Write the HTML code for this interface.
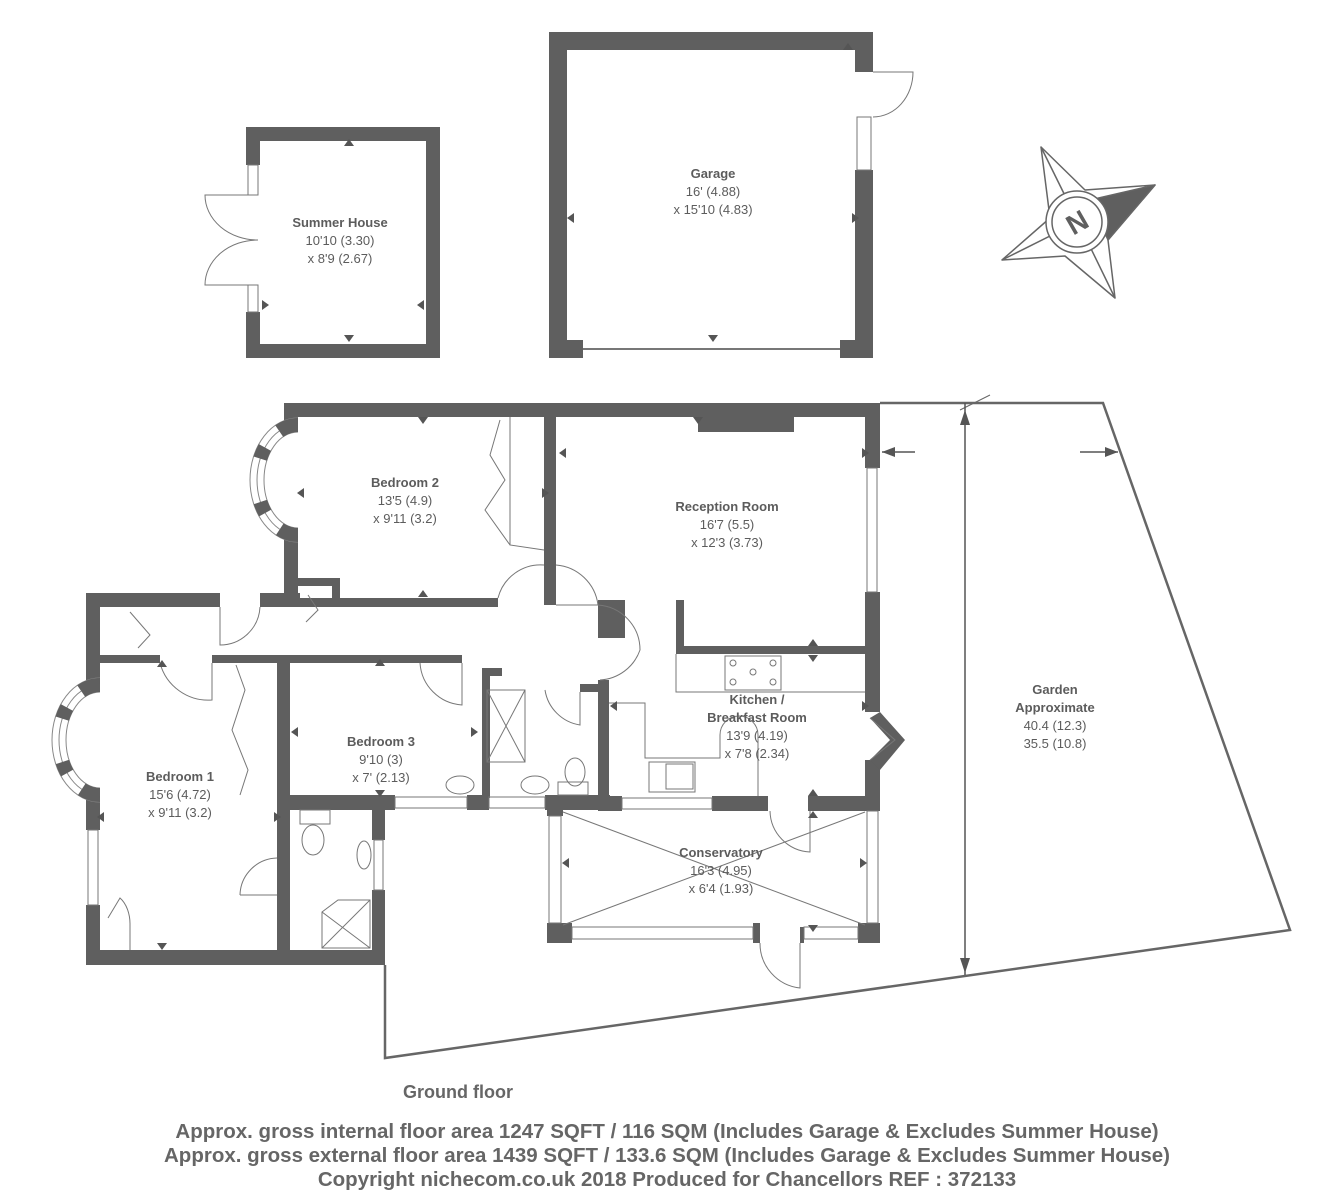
<!DOCTYPE html>
<html><head><meta charset="utf-8"><style>
html,body{margin:0;padding:0;background:#fff}
svg{display:block}
text{font-family:"Liberation Sans",sans-serif;fill:#5c5c5c}
.t{font-weight:bold;font-size:13px}
.d{font-size:13px}
.f{font-weight:bold;font-size:20.5px;fill:#666}
</style></head><body>
<svg width="1342" height="1200" viewBox="0 0 1342 1200" xmlns="http://www.w3.org/2000/svg">
<defs>
<g id="bay">
<path d="M0 -62 A48 62 0 0 0 0 62" fill="none" stroke="#888" stroke-width="1"/>
<path d="M0 -48 A34 48 0 0 0 0 48" fill="none" stroke="#888" stroke-width="1"/>
<path d="M0 -55 A41 55 0 0 0 0 55" fill="none" stroke="#888" stroke-width="1"/>
<path d="M0 -55 A41 55 0 0 0 0 55" fill="none" stroke="#5f5f5f" stroke-width="14" stroke-dasharray="20 22 12 44 12 22 20"/>
</g>
</defs>
<g fill="#5f5f5f">
<!-- Summer house -->
<rect x="246" y="127" width="194" height="14"/>
<rect x="426" y="127" width="14" height="231"/>
<rect x="246" y="344" width="194" height="14"/>
<rect x="246" y="127" width="14" height="38"/>
<rect x="246" y="312" width="14" height="46"/>
<!-- Garage -->
<rect x="549" y="32" width="324" height="18"/>
<rect x="549" y="32" width="18" height="326"/>
<rect x="855" y="32" width="18" height="40"/>
<rect x="855" y="170" width="18" height="188"/>
<rect x="549" y="340" width="34" height="18"/>
<rect x="840" y="340" width="33" height="18"/>
<!-- Main house -->
<rect x="284" y="403" width="596" height="14"/>
<rect x="284" y="403" width="14" height="22"/>
<rect x="284" y="535" width="14" height="58"/>
<rect x="298" y="598" width="200" height="9"/>
<rect x="298" y="578" width="42" height="8"/>
<rect x="332" y="578" width="8" height="28"/>
<rect x="544" y="417" width="12" height="188"/>
<rect x="598" y="600" width="27" height="38"/>
<rect x="676" y="600" width="8" height="54"/>
<rect x="676" y="646" width="189" height="8"/>
<rect x="865" y="403" width="15" height="65"/>
<rect x="865" y="592" width="15" height="120"/>
<rect x="865" y="760" width="15" height="51"/>
<rect x="598" y="680" width="11" height="131"/>
<rect x="608" y="796" width="14" height="15"/>
<rect x="712" y="796" width="56" height="15"/>
<rect x="808" y="796" width="72" height="15"/>
<rect x="698" y="416" width="96" height="16"/>
<rect x="86" y="593" width="134" height="14"/>
<rect x="260" y="593" width="40" height="14"/>
<rect x="86" y="593" width="14" height="92"/>
<rect x="86" y="795" width="14" height="35"/>
<rect x="86" y="905" width="14" height="60"/>
<rect x="100" y="655" width="60" height="8"/>
<rect x="212" y="655" width="250" height="8"/>
<rect x="277" y="655" width="13" height="300"/>
<rect x="482" y="668" width="20" height="8"/>
<rect x="482" y="668" width="8" height="130"/>
<rect x="580" y="684" width="22" height="8"/>
<rect x="290" y="795" width="105" height="15"/>
<rect x="467" y="795" width="22" height="15"/>
<rect x="545" y="795" width="65" height="15"/>
<rect x="372" y="810" width="13" height="30"/>
<rect x="372" y="890" width="13" height="75"/>
<rect x="86" y="950" width="299" height="15"/>
<rect x="547" y="810" width="16" height="6"/>
<rect x="547" y="923" width="25" height="20"/>
<rect x="753" y="923" width="7" height="20"/>
<rect x="800" y="927" width="4" height="16"/>
<rect x="858" y="923" width="22" height="20"/>
<polygon points="880,712 905,740 880,770 870,760 890,740 870,718"/>
</g>
<use href="#bay" x="298" y="480"/>
<use href="#bay" x="100" y="740"/>
<g fill="none" stroke="#777" stroke-width="1">
<rect x="248" y="165" width="10" height="30"/>
<rect x="248" y="285" width="10" height="27"/>
<path d="M258 195 L205 195 A53 45 0 0 0 258 240"/>
<path d="M258 285 L205 285 A53 45 0 0 1 258 240"/>
<rect x="857" y="117" width="14" height="53"/>
<path d="M873 72 L913 72 A40 45 0 0 1 873 117"/>
<line x1="583" y1="349" x2="840" y2="349" stroke-width="2"/>
<rect x="88" y="830" width="10" height="75"/>
<rect x="867" y="468" width="10" height="124"/>
<path d="M220 607 L220 645 A40 40 0 0 0 260 607"/>
<path d="M498 598 A44 44 0 0 1 544 565"/>
<path d="M556 565 A46 46 0 0 1 598 605 L556 605"/>
<path d="M598 605 A45 45 0 0 1 640 650 A45 45 0 0 1 600 680"/>
<path d="M160 663 A50 50 0 0 0 212 700 L212 663"/>
<path d="M420 663 A45 45 0 0 0 462 705 L462 663"/>
<path d="M545 690 A42 42 0 0 0 580 725 L580 692"/>
<path d="M240 895 A38 38 0 0 1 277 858"/>
<line x1="240" y1="895" x2="277" y2="895"/>
<path d="M770 811 A42 42 0 0 0 810 852 L810 811"/>
<path d="M760 943 A45 45 0 0 0 800 988 L800 943"/>
<path d="M108 918 L120 898 A20 30 0 0 1 130 925 L130 950"/>
<path d="M130 612 L150 635 L138 648"/>
<path d="M308 595 L318 610 L306 622"/>
<path d="M510 417 L510 545 L544 550"/>
<path d="M500 420 L490 455 L505 480 L485 510 L510 545"/>
<path d="M236 665 L245 690 L232 730 L248 770 L240 795"/>
<rect x="395" y="797" width="72" height="11"/>
<rect x="489" y="797" width="56" height="11"/>
<rect x="622" y="798" width="90" height="11"/>
<rect x="374" y="840" width="9" height="50"/>
<rect x="549" y="816" width="12" height="107"/>
<rect x="867" y="811" width="11" height="112"/>
<rect x="572" y="927" width="181" height="12"/>
<rect x="804" y="927" width="54" height="12"/>
<path d="M870 718 L895 740 L870 760"/>
<line x1="563" y1="812" x2="865" y2="925"/>
<line x1="563" y1="925" x2="865" y2="812"/>
<path d="M676 654 L676 692 L865 692"/>
<rect x="725" y="656" width="56" height="34"/>
<circle cx="733" cy="663" r="3"/><circle cx="773" cy="663" r="3"/><circle cx="753" cy="672" r="3"/><circle cx="733" cy="682" r="3"/><circle cx="773" cy="682" r="3"/>
<path d="M609 703 L645 703 L645 758 L720 758 L720 735 A18 18 0 0 1 758 735 L758 796"/>
<rect x="649" y="762" width="46" height="30"/>
<rect x="666" y="764" width="27" height="25"/>
<rect x="487" y="690" width="38" height="72"/>
<line x1="487" y1="690" x2="525" y2="762"/><line x1="525" y1="690" x2="487" y2="762"/>
<ellipse cx="575" cy="772" rx="10" ry="14"/>
<rect x="558" y="782" width="30" height="13"/>
<ellipse cx="460" cy="785" rx="14" ry="9"/>
<ellipse cx="535" cy="785" rx="14" ry="9"/>
<ellipse cx="313" cy="840" rx="11" ry="15"/>
<rect x="300" y="810" width="30" height="14"/>
<ellipse cx="364" cy="855" rx="7" ry="14"/>
<path d="M322 948 L322 912 L338 900 L370 900 L370 948 Z"/>
<line x1="322" y1="912" x2="370" y2="948"/><line x1="370" y1="900" x2="322" y2="948"/>
<path d="M880 403 L1103 403 L1290 930 L385 1058 L385 965" stroke="#666" stroke-width="2.5"/>
<line x1="960" y1="410" x2="990" y2="395" stroke="#666"/>
<line x1="965" y1="403" x2="965" y2="975" stroke="#555" stroke-width="1.5"/>
<line x1="882" y1="452" x2="915" y2="452" stroke="#555" stroke-width="1.5"/>
<line x1="1080" y1="452" x2="1118" y2="452" stroke="#555" stroke-width="1.5"/>
</g>
<g fill="#555">
<polygon points="344,146 354,146 349,139"/><polygon points="344,335 354,335 349,342"/>
<polygon points="262,300 262,310 269,305"/><polygon points="424,300 424,310 417,305"/>
<polygon points="843,50 853,50 848,43"/><polygon points="708,335 718,335 713,342"/>
<polygon points="574,213 574,223 567,218"/><polygon points="852,213 852,223 859,218"/>
<polygon points="418,417 428,417 423,424"/><polygon points="418,597 428,597 423,590"/>
<polygon points="304,488 304,498 297,493"/><polygon points="542,488 542,498 549,493"/>
<polygon points="693,417 703,417 698,424"/><polygon points="808,646 818,646 813,639"/>
<polygon points="566,448 566,458 559,453"/><polygon points="862,448 862,458 869,453"/>
<polygon points="808,655 818,655 813,662"/>
<polygon points="617,701 617,711 610,706"/><polygon points="862,701 862,711 869,706"/>
<polygon points="808,796 818,796 813,789"/><polygon points="808,818 818,818 813,811"/>
<polygon points="569,858 569,868 562,863"/><polygon points="860,858 860,868 867,863"/>
<polygon points="808,925 818,925 813,932"/>
<polygon points="375,666 385,666 380,659"/><polygon points="375,790 385,790 380,797"/>
<polygon points="298,727 298,737 291,732"/><polygon points="471,727 471,737 478,732"/>
<polygon points="157,667 167,667 162,660"/><polygon points="157,943 167,943 162,950"/>
<polygon points="104,812 104,822 97,817"/><polygon points="274,812 274,822 281,817"/>
<polygon points="960,425 970,425 965,410"/><polygon points="960,958 970,958 965,973"/>
<polygon points="895,447 895,457 882,452"/><polygon points="1105,447 1105,457 1118,452"/>
</g>
<!-- compass -->
<g stroke="#666" stroke-width="1.5" fill="#fff" stroke-linejoin="round">
<polygon points="1041,147 1085,190 1155,185 1108,240 1115,298 1065,256 1002,260 1050,218"/>
<polygon points="1155,185 1090,200 1108,240" fill="#5f5f5f"/>
<line x1="1041" y1="147" x2="1078" y2="222"/>
<line x1="1002" y1="260" x2="1078" y2="222"/>
<line x1="1115" y1="298" x2="1078" y2="222"/>
<circle cx="1077" cy="222" r="31" fill="#fff"/>
<circle cx="1077" cy="222" r="25" fill="#fff"/>
</g>
<text x="1077" y="232" text-anchor="middle" style="fill:#5f5f5f;font-weight:bold;font-size:28px" transform="rotate(-30 1077 222)">N</text>
<text class="t" x="340" y="227" text-anchor="middle">Summer House</text>
<text class="d" x="340" y="245" text-anchor="middle">10'10 (3.30)</text>
<text class="d" x="340" y="263" text-anchor="middle">x 8'9 (2.67)</text>
<text class="t" x="713" y="178" text-anchor="middle">Garage</text>
<text class="d" x="713" y="196" text-anchor="middle">16' (4.88)</text>
<text class="d" x="713" y="214" text-anchor="middle">x 15'10 (4.83)</text>
<text class="t" x="405" y="487" text-anchor="middle">Bedroom 2</text>
<text class="d" x="405" y="505" text-anchor="middle">13'5 (4.9)</text>
<text class="d" x="405" y="523" text-anchor="middle">x 9'11 (3.2)</text>
<text class="t" x="727" y="511" text-anchor="middle">Reception Room</text>
<text class="d" x="727" y="529" text-anchor="middle">16'7 (5.5)</text>
<text class="d" x="727" y="547" text-anchor="middle">x 12'3 (3.73)</text>
<text class="t" x="757" y="704" text-anchor="middle">Kitchen /</text>
<text class="t" x="757" y="722" text-anchor="middle">Breakfast Room</text>
<text class="d" x="757" y="740" text-anchor="middle">13'9 (4.19)</text>
<text class="d" x="757" y="758" text-anchor="middle">x 7'8 (2.34)</text>
<text class="t" x="381" y="746" text-anchor="middle">Bedroom 3</text>
<text class="d" x="381" y="764" text-anchor="middle">9'10 (3)</text>
<text class="d" x="381" y="782" text-anchor="middle">x 7' (2.13)</text>
<text class="t" x="180" y="781" text-anchor="middle">Bedroom 1</text>
<text class="d" x="180" y="799" text-anchor="middle">15'6 (4.72)</text>
<text class="d" x="180" y="817" text-anchor="middle">x 9'11 (3.2)</text>
<text class="t" x="721" y="857" text-anchor="middle">Conservatory</text>
<text class="d" x="721" y="875" text-anchor="middle">16'3 (4.95)</text>
<text class="d" x="721" y="893" text-anchor="middle">x 6'4 (1.93)</text>
<text class="t" x="1055" y="694" text-anchor="middle">Garden</text>
<text class="t" x="1055" y="712" text-anchor="middle">Approximate</text>
<text class="d" x="1055" y="730" text-anchor="middle">40.4 (12.3)</text>
<text class="d" x="1055" y="748" text-anchor="middle">35.5 (10.8)</text>
<text class="f" x="458" y="1098" text-anchor="middle" style="font-size:18px">Ground floor</text>
<text class="f" x="667" y="1138" text-anchor="middle">Approx. gross internal floor area 1247 SQFT / 116 SQM (Includes Garage &amp; Excludes Summer House)</text>
<text class="f" x="667" y="1162" text-anchor="middle">Approx. gross external floor area 1439 SQFT / 133.6 SQM  (Includes Garage &amp; Excludes Summer House)</text>
<text class="f" x="667" y="1186" text-anchor="middle">Copyright nichecom.co.uk 2018 Produced for Chancellors REF : 372133</text>
</svg>
</body></html>
